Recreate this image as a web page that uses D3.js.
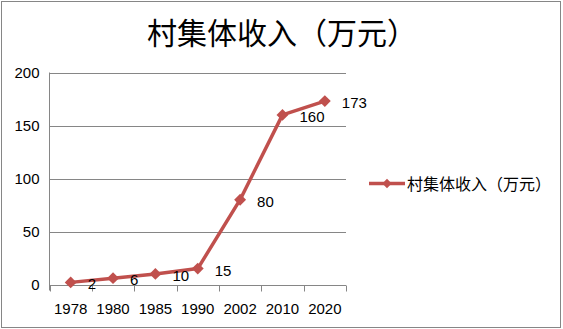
<!DOCTYPE html>
<html><head><meta charset="utf-8">
<script src="https://cdn.jsdelivr.net/npm/d3@7"></script>
<style>
html,body{margin:0;padding:0;background:#fff;}
svg{display:block;}
</style></head>
<body>
<svg id="chart" width="563" height="329"></svg>
<script>
// Village collective income (10k yuan) by year
const years = ["1978", "1980", "1985", "1990", "2002", "2010", "2020"];
const income = [2, 6, 10, 15, 80, 160, 173];
const yTicks = [0, 50, 100, 150, 200];
const titleText = "村集体收入（万元）";
const seriesName = "村集体收入（万元）";

const lineColor = "#C0504D";
const gridColor = "#868686";
const latin = "'Liberation Sans', Arial, sans-serif";
const cjk = "'Noto Sans CJK SC', sans-serif";

const svg = d3.select("#chart");
const W = 563, H = 329;
const plot = {left: 49.5, right: 346, top: 72.5, bottom: 284.5};

// outer frame
svg.append("rect").attr("x", 1.5).attr("y", 1.5).attr("width", W - 4).attr("height", H - 3)
  .attr("fill", "#fff").attr("stroke", gridColor).attr("stroke-width", 1);

// title
svg.append("text").attr("x", 147).attr("y", 44)
  .attr("font-family", cjk).attr("font-size", 30).attr("fill", "#000").text(titleText);

const x = d3.scaleBand().domain(years).range([plot.left, plot.right]).padding(0);
const y = d3.scaleLinear().domain([0, 200]).range([plot.bottom, plot.top]);

// horizontal gridlines
svg.append("g").selectAll("line").data(yTicks.filter(d => d > 0)).join("line")
  .attr("x1", plot.left).attr("x2", plot.right)
  .attr("y1", d => Math.round(y(d)) + 0.5).attr("y2", d => Math.round(y(d)) + 0.5)
  .attr("stroke", gridColor).attr("stroke-width", 1);

// y axis (labels only, plus the vertical axis line)
const yAxis = svg.append("g").attr("transform", `translate(${plot.left},0)`)
  .call(d3.axisLeft(y).tickValues(yTicks).tickSize(0).tickPadding(10));
yAxis.select(".domain").remove();
yAxis.selectAll("text").attr("font-family", latin).attr("font-size", 15).attr("fill", "#000");
svg.append("line").attr("x1", plot.left).attr("x2", plot.left)
  .attr("y1", plot.top).attr("y2", plot.bottom + 6)
  .attr("stroke", gridColor).attr("stroke-width", 1);

// x axis with tick marks between categories
const xAxisY = Math.round(y(0)) + 0.5;
svg.append("line").attr("x1", plot.left).attr("x2", plot.right)
  .attr("y1", xAxisY).attr("y2", xAxisY).attr("stroke", gridColor);
const bounds = years.map(d => x(d)).concat([x(years[years.length - 1]) + x.bandwidth()]);
svg.append("g").selectAll("line").data(bounds).join("line")
  .attr("x1", d => Math.round(d) + 0.5).attr("x2", d => Math.round(d) + 0.5)
  .attr("y1", xAxisY).attr("y2", xAxisY + 6).attr("stroke", gridColor);
svg.append("g").selectAll("text").data(years).join("text")
  .attr("x", d => x(d) + x.bandwidth() / 2).attr("y", 314)
  .attr("text-anchor", "middle").attr("font-family", latin).attr("font-size", 15)
  .attr("fill", "#000").text(d => d);

// series line
const pts = years.map((d, i) => ({year: d, v: income[i], cx: x(d) + x.bandwidth() / 2, cy: y(income[i])}));
svg.append("path").datum(pts)
  .attr("d", d3.line().x(d => d.cx).y(d => d.cy))
  .attr("fill", "none").attr("stroke", lineColor).attr("stroke-width", 3.5)
  .attr("stroke-linejoin", "round");

// diamond markers
const diamond = d3.symbol().type(d3.symbolDiamond2).size(90);
svg.append("g").selectAll("path").data(pts).join("path")
  .attr("d", diamond).attr("transform", d => `translate(${d.cx},${d.cy})`)
  .attr("fill", lineColor);

// value labels to the right of each point
svg.append("g").selectAll("text").data(pts).join("text")
  .attr("x", d => d.cx + 17).attr("y", d => d.cy + 7)
  .attr("font-family", latin).attr("font-size", 15).attr("fill", "#000")
  .text(d => d.v);

// legend
const ly = 183.5;
svg.append("line").attr("x1", 369).attr("x2", 405).attr("y1", ly).attr("y2", ly)
  .attr("stroke", lineColor).attr("stroke-width", 3.5);
svg.append("path").attr("d", d3.symbol().type(d3.symbolDiamond2).size(55))
  .attr("transform", `translate(387,${ly})`).attr("fill", lineColor);
svg.append("text").attr("x", 407).attr("y", ly + 6)
  .attr("font-family", cjk).attr("font-size", 16).attr("fill", "#000").text(seriesName);
</script>
</body></html>
